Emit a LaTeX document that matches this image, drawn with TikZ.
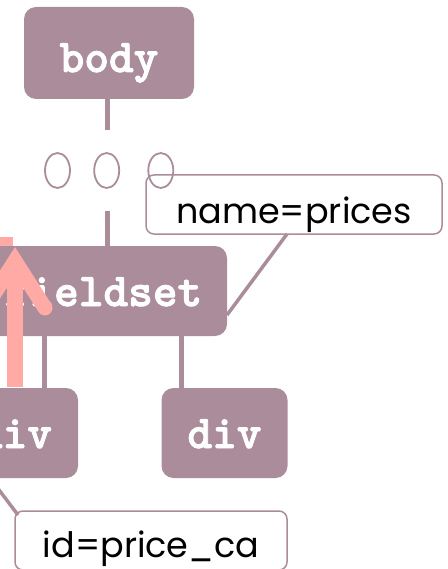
\documentclass[tikz,border=0pt]{standalone}
\usepackage{fontspec}
\usetikzlibrary{shapes.geometric}
\newfontfamily\tagfont{lmmonolt10-bold}[Extension=.otf, FakeBold=2]
\newfontfamily\notefont{Poppins}
\definecolor{mauve}{HTML}{AA8C9B}
\definecolor{salmon}{HTML}{FFAAA5}
\tikzset{
  tagbox/.style={fill=mauve, draw=none, rounded corners=12pt, inner sep=0pt,
    text=white, font=\tagfont\fontsize{47}{47}\selectfont,
    text height=30pt, text depth=0pt},
  note/.style={draw=mauve, line width=1.5pt, rounded corners=8pt, inner sep=0pt,
    text=black, font=\notefont\fontsize{35}{35}\selectfont},
  dot/.style={ellipse, draw=mauve, line width=1.8pt, minimum width=25pt,
    minimum height=35pt, inner sep=0pt},
  link/.style={draw=mauve, line width=5pt},
  tail/.style={draw=mauve, line width=3.5pt},
  pointer/.style={draw=salmon, line width=16pt}
}
\begin{document}
\begin{tikzpicture}[x=1pt, y=-1pt]
\useasboundingbox (0,0) rectangle (447,569);

% element boxes
\node[tagbox, minimum width=170pt, minimum height=92pt, text height=38pt] (body) at (109,53) {body};
\node[tagbox, minimum width=247pt, minimum height=90pt] (fieldset) at (103.5,291) {fieldset};
\node[tagbox, minimum width=126pt, minimum height=90pt] (divA) at (15,433) {div};
\node[tagbox, minimum width=126pt, minimum height=90pt] (divB) at (224.5,433) {div};

% elided levels
\node[dot] (o1) at (57.5,170.5) {};
\node[dot] (o2) at (106.7,170.5) {};
\node[dot] (o3) at (160.8,170.5) {};

% tree edges
\coordinate (gapTop) at (107,130);
\coordinate (gapBot) at (107,211);
\draw[link] (body.south -| gapTop) -- (gapTop);
\draw[link] (gapBot) -- (fieldset.north -| gapBot);
\coordinate (cA) at (44,336);
\coordinate (cB) at (181,336);
\draw[link] (cA) -- (divA.north -| cA);
\draw[link] (cB) -- (divB.north -| cB);

% attribute callouts
\node[note, minimum width=296pt, minimum height=59pt, text height=37pt, text depth=0pt] (nameNote) at (294,204.5) {name=prices};
\node[note, minimum width=272pt, minimum height=59pt, text height=33pt, text depth=0pt] (idNote) at (151,540.5) {id=price\_ca};
\coordinate (nameFoot) at (287,234);
\coordinate (nameTip) at (227,315);
\draw[tail] (nameFoot) -- (nameTip);
\coordinate (idFoot) at (-10,478);
\coordinate (idTip) at (18,515);
\draw[tail] (idFoot) -- (idTip);

% highlight arrow pointing up from the div to the fieldset
\coordinate (shaftBot) at (15,387);
\coordinate (apex) at (15,261);
\draw[pointer, line cap=butt] (shaftBot) -- (apex);
\draw[pointer, line width=15pt, line cap=round, line join=miter] (-15,308) -- (apex) -- (45,308);
\fill[salmon] (0,237) rectangle (13,246);
\end{tikzpicture}
\end{document}
